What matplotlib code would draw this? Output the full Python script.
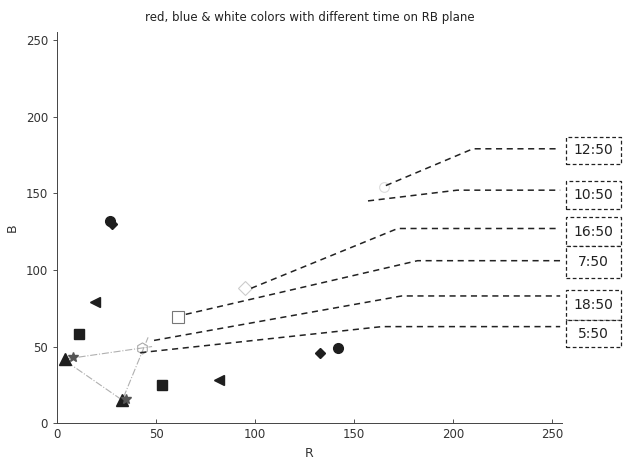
import matplotlib.pyplot as plt
from matplotlib.patches import Rectangle

# filled markers (colour points on the RB plane)
circle_r = [27, 142]
circle_b = [132, 49]
diamond_r = [28, 133]
diamond_b = [130, 46]
ltri_r = [19, 82]
ltri_b = [79, 28]
square_r = [11, 53]
square_b = [58, 25]
utri_r = [4, 33]
utri_b = [42, 15]
star_r = [8, 35]
star_b = [43, 16]

# faint (white) markers
open_sq = (61, 69)
open_dia = (95, 88)
open_circ = (165, 154)
hexa = (43, 49)

# light dash-dot triangle
tri_r = [5, 48]
tri_b = [42, 50]
tri2_r = [5, 33, 46]
tri2_b = [40, 15, 56]

# time labels: start point, bend point, label level
times = ['12:50', '10:50', '16:50', '7:50', '18:50', '5:50']
start_r = [166, 157, 98, 65, 49, 42]
start_b = [155, 145, 88, 71, 54, 46]
bend_r = [210, 202, 172, 182, 174, 164]
level_b = [179, 152, 127, 106, 83, 63]
box_lo = [169, 140, 115.6, 94.5, 67.5, 49.5]
box_hi = [187, 158, 134.4, 115.6, 87, 67.5]

fig = plt.figure(figsize=(6.26, 4.61), dpi=100)
ax = fig.add_axes([0.091, 0.082, 0.807, 0.848])

dark = '#1e1e1e'
ax.plot(tri_r, tri_b, color='#b0b0b0', lw=0.8, ls='-.')
ax.plot(tri2_r, tri2_b, color='#b0b0b0', lw=0.8, ls='-.')

ax.plot(circle_r, circle_b, 'o', color=dark, ms=7, ls='none')
ax.plot(diamond_r, diamond_b, 'D', color=dark, ms=5.5, ls='none')
ax.plot(ltri_r, ltri_b, '<', color=dark, ms=7, ls='none')
ax.plot(square_r, square_b, 's', color=dark, ms=7, ls='none')
ax.plot(utri_r, utri_b, '^', color=dark, ms=8, ls='none')
ax.plot(star_r, star_b, '*', color='#555555', ms=7, ls='none')

ax.plot(*open_sq, 's', mfc='white', mec='#777777', ms=8, mew=0.8)
ax.plot(*open_dia, 'D', mfc='none', mec='#cccccc', ms=7, mew=0.8, ls='none')
ax.plot(*open_circ, 'o', mfc='none', mec='#dddddd', ms=7, mew=0.8)
ax.plot(*hexa, 'h', mfc='none', mec='#aaaaaa', ms=8, mew=0.8)

for i, t in enumerate(times):
    ax.plot([start_r[i], bend_r[i], 254], [start_b[i], level_b[i], level_b[i]],
            color='#222222', lw=1.1, ls=(0, (4, 3)), clip_on=False)
    ax.add_patch(Rectangle((256.8, box_lo[i]), 28.0, box_hi[i] - box_lo[i],
                           fc='white', ec='#222222', ls=(0, (3, 2)), lw=0.9,
                           clip_on=False))
    ax.text(270.8, (box_lo[i] + box_hi[i]) / 2, t, ha='center', va='center',
            fontsize=10, color='#222222', clip_on=False)

ax.set_xlim(0, 255)
ax.set_ylim(0, 255)
ax.set_xticks([0, 50, 100, 150, 200, 250])
ax.set_yticks([0, 50, 100, 150, 200, 250])
ax.tick_params(axis='both', labelsize=8.5, length=3, width=0.6, colors='#333333')
ax.tick_params(axis='x', direction='in')
for s in ['top', 'right']:
    ax.spines[s].set_visible(False)
for s in ['left', 'bottom']:
    ax.spines[s].set_linewidth(0.7)
    ax.spines[s].set_color('#444444')

ax.set_xlabel('R', fontsize=9, color='#333333', labelpad=4)
ax.set_ylabel('B', fontsize=9, color='#333333', labelpad=5)
ax.set_title('red, blue & white colors with different time on RB plane',
             fontsize=8.5, color='#222222', pad=8)

fig.savefig('out.png', dpi=100)
